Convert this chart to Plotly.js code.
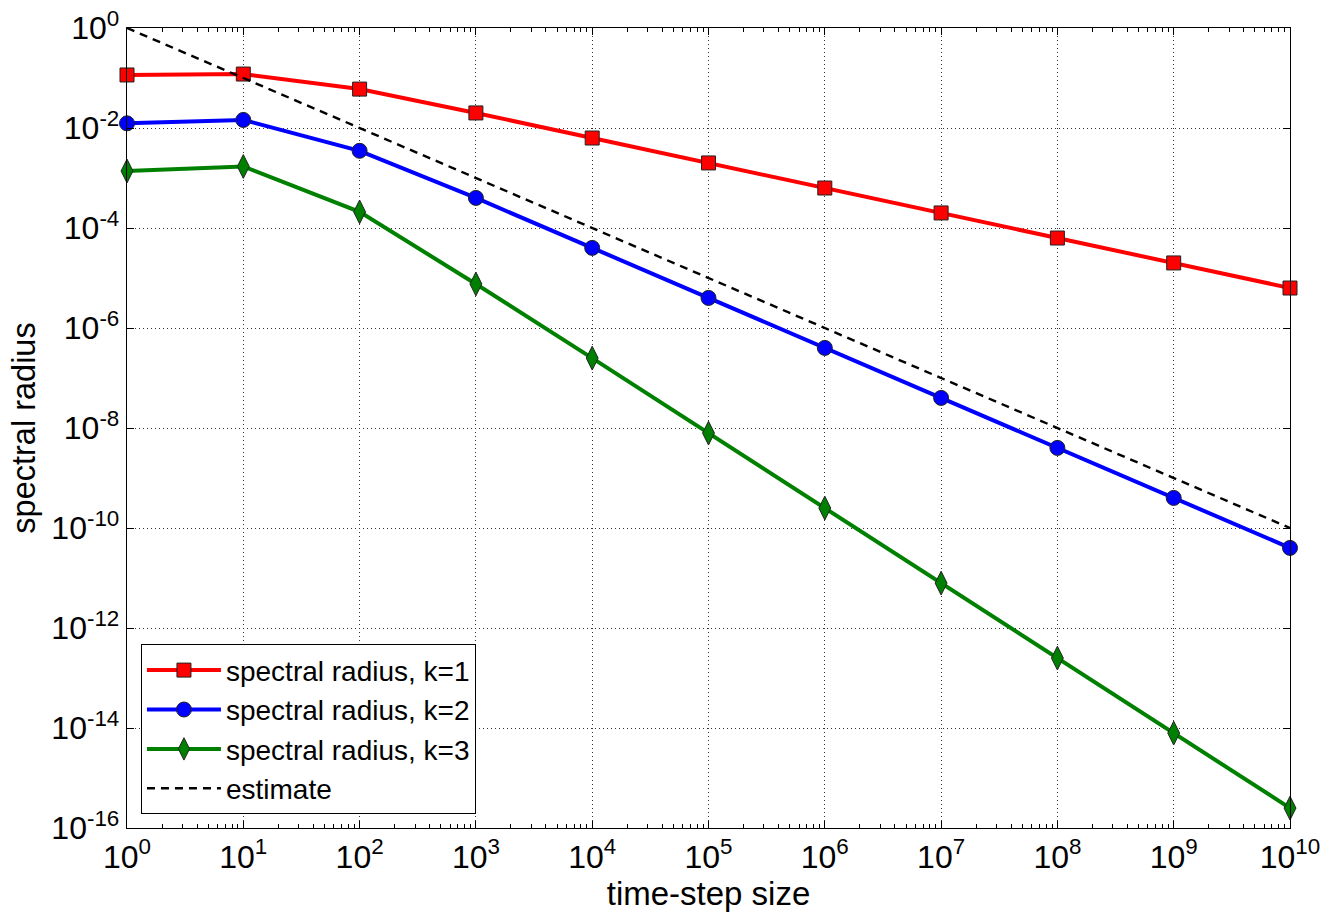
<!DOCTYPE html>
<html>
<head>
<meta charset="utf-8">
<script src="https://cdn.plot.ly/plotly-3.0.1.min.js"></script>
<style>
  html, body { margin: 0; padding: 0; background: #fff; }
  #chart { width: 1332px; height: 917px; }
</style>
</head>
<body>
<div id="chart"></div>
<script>
// Time-step sizes (log scale)
const stepSizes = [1, 1e1, 1e2, 1e3, 1e4, 1e5, 1e6, 1e7, 1e8, 1e9, 1e10];

// Spectral radius for each k
const radiusK1 = [0.115, 0.12, 0.06, 0.02, 6.3e-3, 2.0e-3, 6.3e-4, 2.0e-4, 6.3e-5, 2.0e-5, 6.3e-6];
const radiusK2 = [0.0124, 0.0145, 3.5e-3, 4.0e-4, 4.0e-5, 4.0e-6, 4.0e-7, 4.0e-8, 4.0e-9, 4.0e-10, 4.0e-11];
const radiusK3 = [1.38e-3, 1.7e-3, 2.1e-4, 7.6e-6, 2.5e-7, 7.9e-9, 2.5e-10, 7.9e-12, 2.5e-13, 7.9e-15, 2.5e-16];

// Estimate: 1 / time-step size
const estimateX = [1, 1e10];
const estimateY = [1, 1e-10];

// Axis tick labels
const xTickVals = [1, 1e1, 1e2, 1e3, 1e4, 1e5, 1e6, 1e7, 1e8, 1e9, 1e10];
const xTickText = ['10<sup>0</sup>', '10<sup>1</sup>', '10<sup>2</sup>', '10<sup>3</sup>', '10<sup>4</sup>',
                   '10<sup>5</sup>', '10<sup>6</sup>', '10<sup>7</sup>', '10<sup>8</sup>', '10<sup>9</sup>', '10<sup>10</sup>'];
const yTickVals = [1, 1e-2, 1e-4, 1e-6, 1e-8, 1e-10, 1e-12, 1e-14, 1e-16];
const yTickText = ['10<sup>0</sup>', '10<sup>-2</sup>', '10<sup>-4</sup>', '10<sup>-6</sup>', '10<sup>-8</sup>',
                   '10<sup>-10</sup>', '10<sup>-12</sup>', '10<sup>-14</sup>', '10<sup>-16</sup>'];

const FONT = 'Arial, "Liberation Sans", Helvetica, sans-serif';
const markerEdge = { color: '#222', width: 1 };

const traces = [
  {
    x: stepSizes, y: radiusK1, name: 'spectral radius, k=1', mode: 'lines+markers',
    line: { color: '#ff0000', width: 4 },
    marker: { symbol: 'square', size: 14, color: '#ff0000', line: markerEdge },
    cliponaxis: false
  },
  {
    x: stepSizes, y: radiusK2, name: 'spectral radius, k=2', mode: 'lines+markers',
    line: { color: '#0000ff', width: 4 },
    marker: { symbol: 'circle', size: 15, color: '#0000ff', line: markerEdge },
    cliponaxis: false
  },
  {
    x: stepSizes, y: radiusK3, name: 'spectral radius, k=3', mode: 'lines+markers',
    line: { color: '#008000', width: 4 },
    marker: { symbol: 'diamond-tall', size: 17, color: '#008000', line: markerEdge },
    cliponaxis: false
  },
  {
    x: estimateX, y: estimateY, name: 'estimate', mode: 'lines',
    line: { color: '#000000', width: 2.4, dash: '8px,6px' }
  }
];

const axisCommon = {
  type: 'log',
  showline: true, linecolor: '#000', linewidth: 1.3,
  mirror: 'allticks',
  ticks: 'inside', tickcolor: '#000', tickwidth: 1,
  showgrid: true, gridcolor: '#333', gridwidth: 1, griddash: '1px,3px',
  zeroline: false,
  tickmode: 'array',
  tickfont: { family: FONT, size: 32, color: '#000' }
};

const layout = {
  width: 1332, height: 917,
  margin: { l: 127, r: 42, t: 28, b: 89 },
  paper_bgcolor: '#fff', plot_bgcolor: '#fff',
  font: { family: FONT, color: '#000' },
  showlegend: true,
  legend: {
    x: 0.012, y: 0.017, xanchor: 'left', yanchor: 'bottom',
    bgcolor: '#fff', bordercolor: '#000', borderwidth: 1,
    font: { family: FONT, size: 28, color: '#000' },
    itemwidth: 74, tracegroupgap: 0
  },
  xaxis: Object.assign({}, axisCommon, {
    range: [0, 10],
    tickvals: xTickVals, ticktext: xTickText,
    ticklen: 7,
    minor: { dtick: 'D1', ticks: 'inside', ticklen: 4, tickcolor: '#000', tickwidth: 1, showgrid: false },
    title: { text: 'time-step size', font: { family: FONT, size: 33, color: '#000' }, standoff: 4 }
  }),
  yaxis: Object.assign({}, axisCommon, {
    range: [-16, 0],
    tickvals: yTickVals, ticktext: yTickText,
    ticklen: 7,
    title: { text: 'spectral radius', font: { family: FONT, size: 32.5, color: '#000' }, standoff: 6 }
  })
};

Plotly.newPlot('chart', traces, layout, { staticPlot: true });
</script>
</body>
</html>
